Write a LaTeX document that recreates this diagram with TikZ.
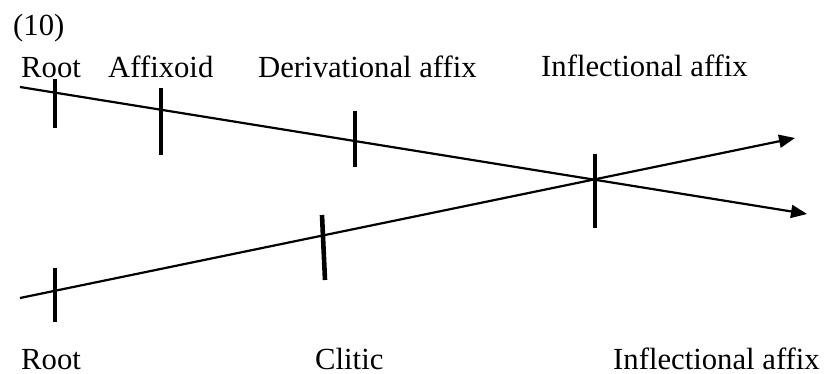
\documentclass[tikz,border=0pt]{standalone}
\usepackage{fontspec}
\setmainfont{Liberation Serif}
\usetikzlibrary{arrows.meta}
\begin{document}
\begin{tikzpicture}[x=1pt,y=-1pt,
  lbl/.style={anchor=base west,inner sep=0pt,font=\fontsize{30.7}{36}\selectfont},
  axis/.style={line width=2.2pt,-{Triangle[length=16pt,width=13pt]}},
  tick/.style={line width=4.6pt}]
\useasboundingbox (0,0) rectangle (828,374);
% labels
\node[lbl] (ex) at (13,36) {(10)};
\node[lbl] (r1) at (21,78) {Root};
\node[lbl] (af) at (108,78) {Affixoid};
\node[lbl] (da) at (258,78) {Derivational affix};
\node[lbl] (ia1) at (541,77) {Inflectional affix};
\node[lbl] (r2) at (21,369) {Root};
\node[lbl] (cl) at (315,369) {Clitic};
\node[lbl] (ia2) at (613,369) {Inflectional affix};
% axes
\coordinate (a1s) at (20,87);
\coordinate (a1e) at (807,214);
\coordinate (a2s) at (20,298);
\coordinate (a2e) at (795,138);
\draw[axis] (a1s) -- (a1e);
\draw[axis] (a2s) -- (a2e);
% ticks
\coordinate (t1a) at (55,79);   \coordinate (t1b) at (55,128);
\coordinate (t2a) at (161,88);  \coordinate (t2b) at (161,155);
\coordinate (t3a) at (355,111); \coordinate (t3b) at (355,167);
\coordinate (t4a) at (595,154); \coordinate (t4b) at (595,228);
\coordinate (t5a) at (55,268);  \coordinate (t5b) at (55,322);
\coordinate (t6a) at (322,215); \coordinate (t6b) at (325,280);
\draw[tick] (t1a) -- (t1b);
\draw[tick] (t2a) -- (t2b);
\draw[tick] (t3a) -- (t3b);
\draw[tick] (t4a) -- (t4b);
\draw[tick] (t5a) -- (t5b);
\draw[tick] (t6a) -- (t6b);
\end{tikzpicture}
\end{document}
